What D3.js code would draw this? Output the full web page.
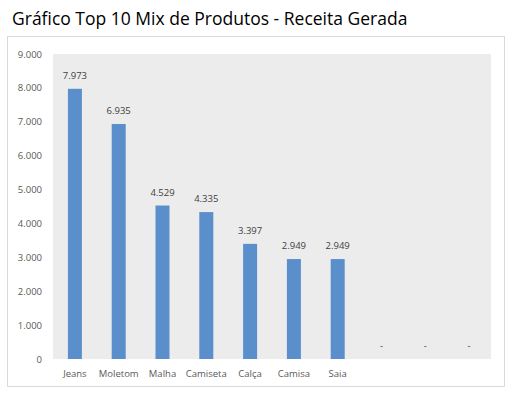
<!DOCTYPE html>
<html>
<head>
<meta charset="utf-8">
<script src="https://cdn.jsdelivr.net/npm/d3@7"></script>
<style>
  body { margin: 0; background: #fff; }
  text { font-family: "Open Sans", "Liberation Sans", sans-serif; }
</style>
</head>
<body>
<svg width="508" height="396"></svg>
<script>
var categories = ["Jeans", "Moletom", "Malha", "Camiseta", "Calça", "Camisa", "Saia", "", "", ""];
var values = [7973, 6935, 4529, 4335, 3397, 2949, 2949, 0, 0, 0];
var yTicks = [0, 1000, 2000, 3000, 4000, 5000, 6000, 7000, 8000, 9000];

var svg = d3.select("svg");

var ptBr = d3.formatLocale({ decimal: ",", thousands: ".", grouping: [3], currency: ["R$", ""] });
var fmt = ptBr.format(",d");

// title
svg.append("text")
    .attr("x", 12).attr("y", 25)
    .style("font-size", "17.5px")
    .style("fill", "#000")
    .text("Gráfico Top 10 Mix de Produtos - Receita Gerada");

// chart frame
svg.append("rect")
    .attr("x", 7.5).attr("y", 36.5)
    .attr("width", 497).attr("height", 350)
    .attr("fill", "#fff")
    .attr("stroke", "#d9d9d9");

var plot = { left: 53, right: 491, top: 54, bottom: 359 };

var x = d3.scaleBand()
    .domain(d3.range(categories.length))
    .range([plot.left, plot.right]);

var y = d3.scaleLinear()
    .domain([0, 9000])
    .range([plot.bottom, plot.top]);

svg.append("rect")
    .attr("x", plot.left).attr("y", plot.top)
    .attr("width", plot.right - plot.left).attr("height", plot.bottom - plot.top)
    .attr("fill", "#ececec");

// y axis labels
svg.append("g").selectAll("text")
    .data(yTicks)
    .enter().append("text")
      .attr("x", 42)
      .attr("y", function(d) { return y(d) + 3.5; })
      .attr("text-anchor", "end")
      .style("font-size", "9.5px")
      .style("fill", "#595959")
      .text(function(d) { return fmt(d); });

// bars
var barW = 14;
svg.append("g").selectAll("rect")
    .data(values)
    .enter().append("rect")
      .attr("x", function(d, i) { return x(i) + x.bandwidth() / 2 - barW / 2; })
      .attr("y", function(d) { return y(d); })
      .attr("width", barW)
      .attr("height", function(d) { return y(0) - y(d); })
      .attr("fill", "#5b8fcb");

// data labels
svg.append("g").selectAll("text")
    .data(values)
    .enter().append("text")
      .attr("x", function(d, i) { return x(i) + x.bandwidth() / 2; })
      .attr("y", function(d) { return d > 0 ? y(d) - 10 : y(0) - 10; })
      .attr("text-anchor", "middle")
      .style("font-size", "9.5px")
      .style("fill", "#404040")
      .text(function(d) { return d > 0 ? fmt(d) : "-"; });

// category labels
svg.append("g").selectAll("text")
    .data(categories)
    .enter().append("text")
      .attr("x", function(d, i) { return x(i) + x.bandwidth() / 2; })
      .attr("y", 377)
      .attr("text-anchor", "middle")
      .style("font-size", "9.5px")
      .style("fill", "#595959")
      .text(function(d) { return d; });
</script>
</body>
</html>
